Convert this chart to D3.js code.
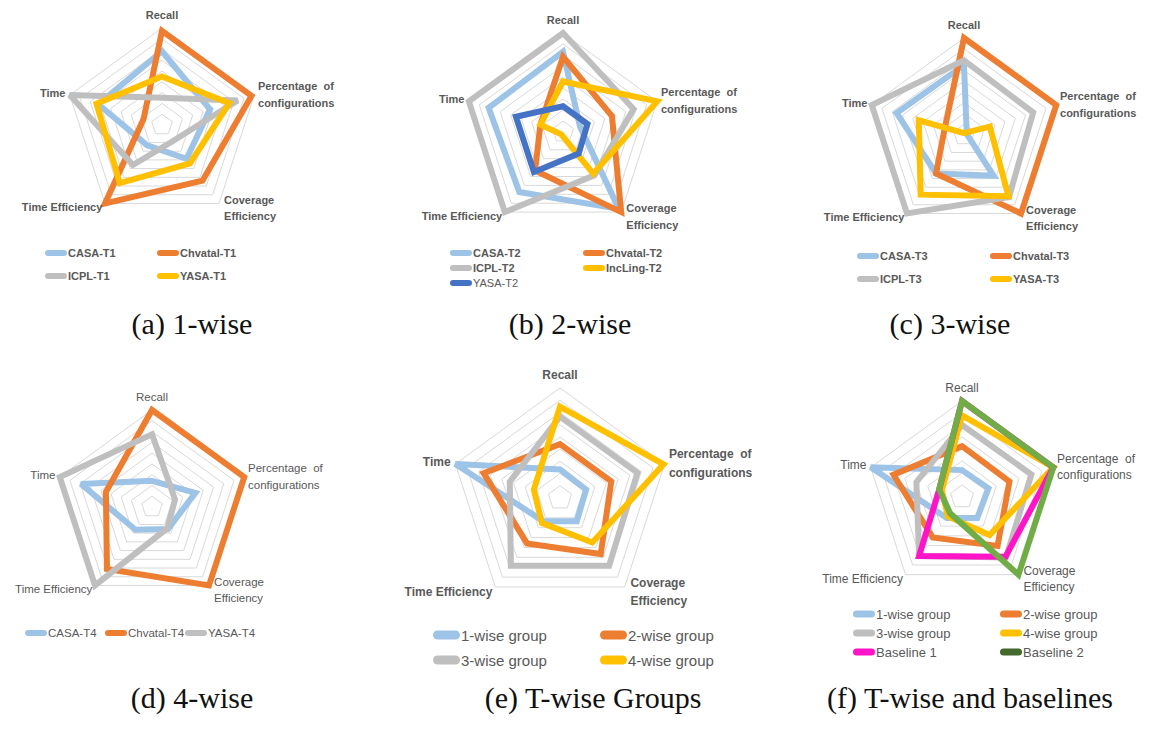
<!DOCTYPE html>
<html>
<head>
<meta charset="utf-8">
<script src="https://cdn.jsdelivr.net/npm/d3@7"></script>
<style>
  body { margin: 0; background: #fff; }
  svg { display: block; }
</style>
</head>
<body>
<svg id="fig" width="1153" height="742"></svg>
<script>
// Radar axes, clockwise from the top
const axes = ["Recall", "Percentage of configurations", "Coverage Efficiency", "Time Efficiency", "Time"];
const axisLabelLines = [["Recall"], ["Percentage  of", "configurations"], ["Coverage", "Efficiency"], ["Time Efficiency"], ["Time"]];

// Normalised scores per axis: Recall, Percentage, Coverage Eff., Time Eff., Time
const seriesT1 = ["CASA-T1", "Chvatal-T1", "ICPL-T1", "YASA-T1"];
const valuesT1 = [
  [0.76, 0.52, 0.43, 0.26, 0.69],
  [0.97, 0.97, 0.71, 1.00, 0.20],
  [0.28, 0.82, 0.20, 0.51, 1.00],
  [0.50, 0.73, 0.49, 0.74, 0.71]
];

const seriesT2 = ["CASA-T2", "Chvatal-T2", "ICPL-T2", "IncLing-T2", "YASA-T2"];
const valuesT2 = [
  [0.81, 0.18, 0.96, 0.75, 0.79],
  [0.76, 0.52, 1.00, 0.48, 0.24],
  [1.00, 0.75, 0.54, 1.00, 1.00],
  [0.51, 1.00, 0.52, 0.03, 0.24],
  [0.26, 0.26, 0.27, 0.50, 0.50]
];

const seriesT3 = ["CASA-T3", "Chvatal-T3", "ICPL-T3", "YASA-T3"];
const valuesT3 = [
  [0.72, 0.03, 0.52, 0.49, 0.73],
  [1.00, 1.00, 1.00, 0.49, 0.21],
  [0.77, 0.75, 0.79, 1.00, 1.00],
  [0.02, 0.28, 0.78, 0.76, 0.49]
];

const seriesT4 = ["CASA-T4", "Chvatal-T4", "YASA-T4"];
const valuesT4 = [
  [0.27, 0.47, 0.28, 0.29, 0.77],
  [1.00, 1.00, 1.00, 0.79, 0.50],
  [0.75, 0.25, 0.27, 1.00, 1.00]
];

const seriesGroups = ["1-wise group", "2-wise group", "3-wise group", "4-wise group"];
const valuesGroups = [
  [0.26, 0.25, 0.26, 0.26, 1.00],
  [0.49, 0.49, 0.63, 0.51, 0.73],
  [0.74, 0.74, 0.76, 0.76, 0.48],
  [0.83, 0.99, 0.50, 0.28, 0.25]
];

const seriesBaselines = ["1-wise group", "2-wise group", "3-wise group", "4-wise group", "Baseline 1", "Baseline 2"];
const valuesBaselines = [
  [0.28, 0.29, 0.27, 0.27, 1.00],
  [0.53, 0.52, 0.63, 0.52, 0.75],
  [0.75, 0.76, 0.78, 0.76, 0.50],
  [0.85, 1.00, 0.49, 0.25, 0.22],
  [1.00, 1.00, 0.77, 0.76, 0.25],
  [1.00, 1.00, 1.00, 0.21, 0.25]
];

const captions = ["(a) 1-wise", "(b) 2-wise", "(c) 3-wise", "(d) 4-wise", "(e) T-wise Groups", "(f) T-wise and baselines"];

// Palette
const C = {
  blue: "#9dc3e6", orange: "#ed7d31", gray: "#bfbfbf", yellow: "#ffc000",
  navy: "#4472c4", magenta: "#ff14c8", green: "#70ad47", darkGreen: "#44692d"
};

const LABEL_FONT = "'Liberation Sans', Arial, sans-serif";
const LEGEND_FONT = "'Liberation Sans Narrow', 'Liberation Sans', Arial, sans-serif";
const CAPTION_FONT = "'Liberation Serif', 'DejaVu Serif', serif";

const panels = [
  { cx: 162, cy: 125, R: 97, rings: 9, names: seriesT1, values: valuesT1,
    colors: [C.blue, C.orange, C.gray, C.yellow], bold: true, labelSize: 11,
    legend: { cols: [45, 157], rows: [253, 276], size: 11, len: 22, thick: 6 },
    caption: captions[0], capX: 192, capY: 323 },
  { cx: 563, cy: 132, R: 99, rings: 9, names: seriesT2, values: valuesT2,
    colors: [C.blue, C.orange, C.gray, C.yellow, C.navy], bold: true, labelSize: 11,
    legend: { cols: [450, 583], rows: [253, 268, 283], size: 11, len: 22, thick: 6 },
    caption: captions[1], capX: 570, capY: 323 },
  { cx: 964, cy: 135, R: 97, rings: 9, names: seriesT3, values: valuesT3,
    colors: [C.blue, C.orange, C.gray, C.yellow], bold: true, labelSize: 11,
    legend: { cols: [857, 990], rows: [256, 279], size: 11, len: 22, thick: 6 },
    caption: captions[2], capX: 950, capY: 323 },
  { cx: 152, cy: 507, R: 97, rings: 9, names: seriesT4, values: valuesT4,
    colors: [C.blue, C.orange, C.gray], bold: false, labelSize: 11.5,
    legend: { cols: [25, 105, 185], rows: [633], size: 11.5, len: 22, thick: 6 },
    caption: captions[3], capX: 192, capY: 697 },
  { cx: 560, cy: 498, R: 110, rings: 9, names: seriesGroups, values: valuesGroups,
    colors: [C.blue, C.orange, C.gray, C.yellow], bold: true, labelSize: 12,
    legend: { cols: [433, 600], rows: [635, 660], size: 15, len: 27, thick: 9 },
    caption: captions[4], capX: 593, capY: 697 },
  { cx: 962, cy: 497, R: 96, rings: 8, names: seriesBaselines, values: valuesBaselines,
    colors: [C.blue, C.orange, C.gray, C.yellow, C.magenta, C.green],
    legendColors: [C.blue, C.orange, C.gray, C.yellow, C.magenta, C.darkGreen],
    bold: false, labelSize: 12,
    legend: { cols: [853, 1000], rows: [614, 633, 652], size: 13, len: 22, thick: 7 },
    caption: captions[5], capX: 970, capY: 697 }
];

const svg = d3.select("#fig");

const angle = d3.scalePoint().domain(axes).range([0, 2 * Math.PI * (axes.length - 1) / axes.length]);

panels.forEach(p => {
  const g = svg.append("g").attr("transform", `translate(${p.cx},${p.cy})`);
  const r = d3.scaleLinear().domain([0, 1]).range([0, p.R]);

  const radial = d3.lineRadial()
    .angle((d, i) => angle(axes[i]))
    .radius(d => r(d))
    .curve(d3.curveLinearClosed);

  // concentric grid pentagons
  const ringLevels = d3.range(1, p.rings + 1).map(k => k / p.rings);
  g.append("g").selectAll("path").data(ringLevels).join("path")
    .attr("d", lv => radial(axes.map(() => lv)))
    .attr("fill", "none")
    .attr("stroke", "#d9d9d9")
    .attr("stroke-width", 1);

  // series polygons
  g.append("g").selectAll("path").data(p.values).join("path")
    .attr("d", v => radial(v))
    .attr("fill", "none")
    .attr("stroke", (v, i) => p.colors[i])
    .attr("stroke-width", 6)
    .attr("stroke-linejoin", "miter")
    .attr("stroke-miterlimit", 2.5);

  // axis labels
  const R = p.R;
  const lblPos = [
    { x: 0, ys: [-R - 13], anchor: "middle" },
    { x: R * 0.99, ys: [-0.40 * R, -0.23 * R], anchor: "start" },
    { x: R * 0.64, ys: [0.77 * R, 0.935 * R], anchor: "start" },
    { x: -R * 0.615, ys: [0.85 * R], anchor: "end" },
    { x: -R * 0.995, ys: [-0.33 * R], anchor: "end" }
  ];
  const lg = g.append("g")
    .attr("font-family", LABEL_FONT)
    .attr("font-size", p.labelSize)
    .attr("font-weight", p.bold ? "bold" : "normal")
    .attr("fill", "#595959");
  axisLabelLines.forEach((lines, i) => {
    lines.forEach((t, j) => {
      lg.append("text")
        .attr("x", lblPos[i].x)
        .attr("y", lblPos[i].ys[j])
        .attr("text-anchor", lblPos[i].anchor)
        .attr("dominant-baseline", "central")
        .attr("xml:space", "preserve")
        .text(t);
    });
  });

  // legend
  const L = p.legend;
  const ncol = L.cols.length;
  const leg = svg.append("g")
    .attr("font-family", LEGEND_FONT)
    .attr("font-size", L.size)
    .attr("font-weight", p.bold && L.size < 14 ? "bold" : "normal")
    .attr("fill", "#595959");
  p.names.forEach((name, i) => {
    const x = L.cols[i % ncol];
    const y = L.rows[Math.floor(i / ncol)];
    const col = (p.legendColors || p.colors)[i];
    leg.append("line")
      .attr("x1", x + L.thick / 2).attr("x2", x + L.len - L.thick / 2)
      .attr("y1", y).attr("y2", y)
      .attr("stroke", col).attr("stroke-width", L.thick)
      .attr("stroke-linecap", "round");
    leg.append("text")
      .attr("x", x + L.len + 1).attr("y", y)
      .attr("dominant-baseline", "central")
      .attr("font-weight", (name === "YASA-T2") ? "normal" : null)
      .text(name);
  });

  // caption
  svg.append("text")
    .attr("x", p.capX).attr("y", p.capY)
    .attr("text-anchor", "middle")
    .attr("dominant-baseline", "central")
    .attr("font-family", CAPTION_FONT)
    .attr("font-size", 30)
    .attr("fill", "#111")
    .text(p.caption);
});
</script>
</body>
</html>
